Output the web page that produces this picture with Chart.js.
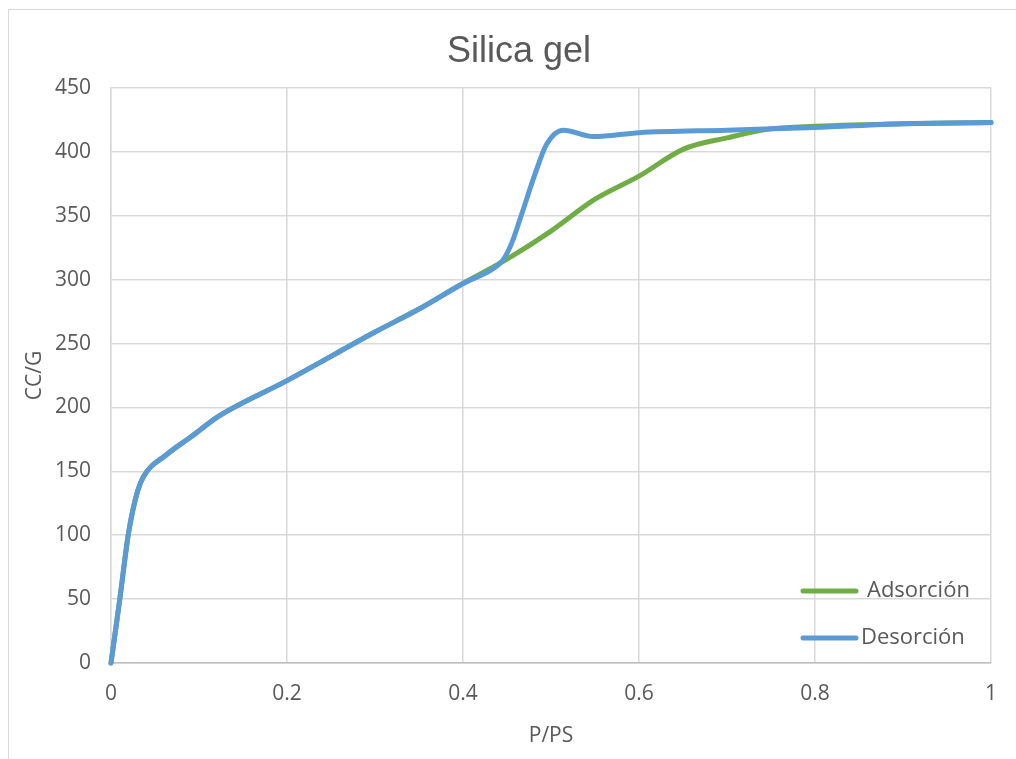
<!DOCTYPE html>
<html>
<head>
<meta charset="utf-8">
<script src="https://cdn.jsdelivr.net/npm/chart.js@4.4.0/dist/chart.umd.min.js"></script>
<style>
  html, body { margin: 0; padding: 0; background: #ffffff; }
  #wrap { position: relative; width: 1016px; height: 759px; overflow: hidden; }
  #frame { position: absolute; left: 8px; top: 9px; width: 1100px; height: 800px;
           border-left: 1.5px solid #d9d9d9; border-top: 1.5px solid #d9d9d9; }
  #c { position: absolute; left: 0; top: 0; }
</style>
</head>
<body>
<div id="wrap">
  <div id="frame"></div>
  <canvas id="c" width="1016" height="759"></canvas>
</div>
<script>
// Isotherm of silica gel: relative pressure P/PS vs adsorbed volume CC/G
const adsP = [0, 0.01, 0.02, 0.03, 0.037, 0.063, 0.093, 0.122, 0.2, 0.3, 0.35, 0.4, 0.45, 0.5, 0.55, 0.6, 0.65, 0.7, 0.75, 0.8, 0.9, 1.0];
const adsV = [0, 50, 102, 134, 146, 163, 178, 193, 221, 259, 277, 297, 316, 338, 363, 381, 402, 411, 418, 420, 422, 423];

const desP = [0, 0.01, 0.02, 0.03, 0.037, 0.063, 0.093, 0.122, 0.2, 0.3, 0.35, 0.4, 0.433, 0.445, 0.455, 0.467, 0.482, 0.495, 0.514, 0.548, 0.6, 0.7, 0.8, 0.9, 1.0];
const desV = [0, 50, 102, 134, 146, 163, 178, 193, 221, 259, 277, 297, 308, 315, 328, 352, 383, 406, 417, 412, 415, 417, 419, 422, 423];

const seriesNames = ['Adsorción', 'Desorción'];
const seriesColors = ['#70ad47', '#5b9bd5'];
const chartTitle = 'Silica gel';
const xTitle = 'P/PS';
const yTitle = 'CC/G';

const toPoints = (xs, ys) => xs.map((x, i) => ({ x: x, y: ys[i] }));

const TEXT = '#595959';
const GRID = '#d9d9d9';
const TICK_FONT = { family: '"Open Sans", sans-serif', size: 21 };

// Legend drawn inside the plot area, lower right
const insideLegend = {
  id: 'insideLegend',
  afterDraw(chart) {
    const ctx = chart.ctx;
    const rows = [
      { lineX: 803, lineEnd: 856, y: 591, textX: 867 },
      { lineX: 803, lineEnd: 856, y: 638, textX: 861 }
    ];
    ctx.save();
    chart.data.datasets.forEach((ds, i) => {
      const r = rows[i];
      ctx.strokeStyle = ds.borderColor;
      ctx.lineWidth = 5;
      ctx.lineCap = 'round';
      ctx.beginPath();
      ctx.moveTo(r.lineX, r.y);
      ctx.lineTo(r.lineEnd, r.y);
      ctx.stroke();
      ctx.fillStyle = TEXT;
      ctx.font = '22px "Open Sans", sans-serif';
      ctx.textBaseline = 'middle';
      ctx.textAlign = 'left';
      ctx.fillText(ds.label, r.textX, r.y);
    });
    ctx.restore();
  }
};

new Chart(document.getElementById('c'), {
  type: 'scatter',
  data: {
    datasets: [
      {
        label: seriesNames[0],
        data: toPoints(adsP, adsV),
        showLine: true,
        borderColor: seriesColors[0],
        backgroundColor: seriesColors[0],
        borderWidth: 5,
        pointRadius: 0,
        cubicInterpolationMode: 'monotone',
        borderCapStyle: 'round',
        borderJoinStyle: 'round',
        clip: 6,
        order: 2
      },
      {
        label: seriesNames[1],
        data: toPoints(desP, desV),
        showLine: true,
        borderColor: seriesColors[1],
        backgroundColor: seriesColors[1],
        borderWidth: 5,
        pointRadius: 0,
        cubicInterpolationMode: 'monotone',
        borderCapStyle: 'round',
        borderJoinStyle: 'round',
        clip: 6,
        order: 1
      }
    ]
  },
  options: {
    responsive: false,
    animation: false,
    devicePixelRatio: 1,
    layout: { padding: { left: 22, right: 0, top: 0, bottom: 0 } },
    plugins: {
      legend: { display: false },
      tooltip: { enabled: false },
      title: {
        display: true,
        text: chartTitle,
        color: TEXT,
        font: { family: '"Liberation Sans", Arial, sans-serif', size: 36, weight: 'normal' },
        padding: { top: 30, bottom: 14.8 }
      }
    },
    scales: {
      x: {
        type: 'linear',
        min: 0,
        max: 1,
        ticks: {
          stepSize: 0.2,
          color: TEXT,
          font: TICK_FONT,
          padding: 18,
          maxRotation: 0,
          callback: v => String(Math.round(v * 10) / 10)
        },
        grid: { color: GRID, lineWidth: 1.5, drawTicks: false },
        border: { color: '#bfbfbf', width: 1.5 },
        title: {
          display: true,
          text: xTitle,
          color: TEXT,
          font: TICK_FONT,
          padding: { top: 0, bottom: 10 }
        },
        afterFit(scale) { scale.height = 96; }
      },
      y: {
        type: 'linear',
        min: 0,
        max: 450,
        ticks: {
          stepSize: 50,
          color: TEXT,
          font: TICK_FONT,
          padding: 20
        },
        grid: { color: GRID, lineWidth: 1.5, drawTicks: false },
        border: { color: GRID, width: 1.5 },
        title: {
          display: true,
          text: yTitle,
          color: TEXT,
          font: TICK_FONT,
          padding: { top: 0, bottom: 0 }
        },
        afterFit(scale) { scale.width = 89; }
      },
      // empty margin strip on the right of the plot
      yRight: {
        type: 'linear',
        position: 'right',
        min: 0,
        max: 450,
        ticks: { display: false },
        grid: { display: false, drawTicks: false },
        border: { display: false },
        afterFit(scale) { scale.width = 25; }
      }
    }
  },
  plugins: [insideLegend]
});
</script>
</body>
</html>
